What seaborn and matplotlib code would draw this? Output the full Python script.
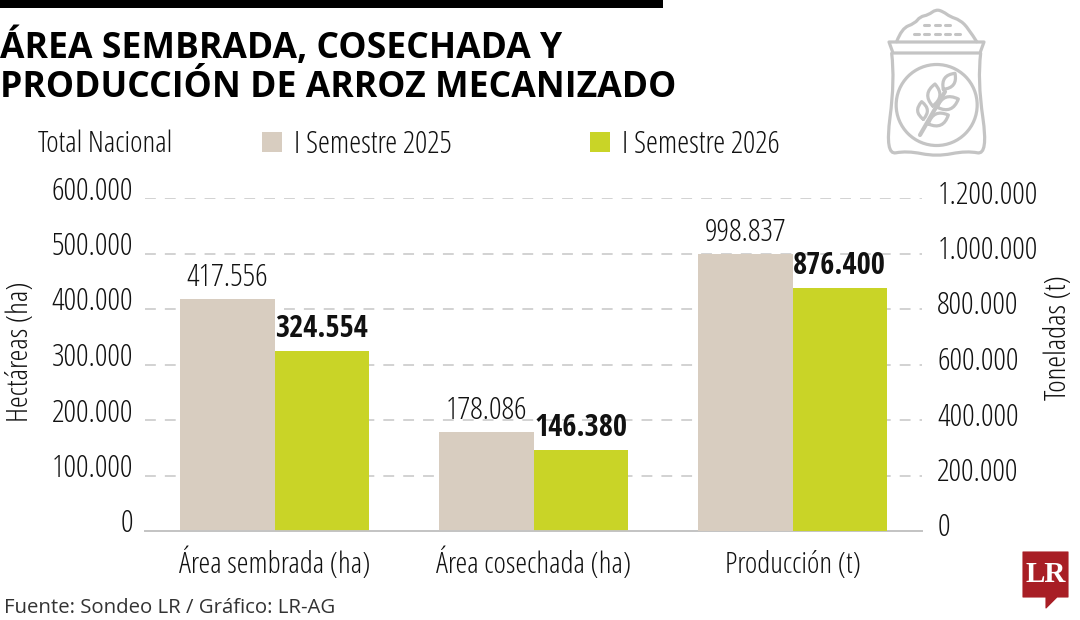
import matplotlib
matplotlib.use("Agg")
import matplotlib.pyplot as plt
import matplotlib.patches as mpatches
from matplotlib.font_manager import FontProperties
from matplotlib.path import Path
from matplotlib.transforms import ScaledTranslation
import pandas as pd
import seaborn as sns

categories = ["Área sembrada (ha)", "Área cosechada (ha)", "Producción (t)"]
periods = ["I Semestre 2025", "I Semestre 2026"]
area_categories = ["Área sembrada (ha)", "Área cosechada (ha)"]
area_2025 = [417556, 178086]
area_2026 = [324554, 146380]
prod_categories = ["Producción (t)"]
prod_2025 = [998837]
prod_2026 = [876400]
left_ticks = [0, 100000, 200000, 300000, 400000, 500000, 600000]
right_ticks = [0, 200000, 400000, 600000, 800000, 1000000, 1200000]
colors = ["#d8cdc0", "#c9d427"]

W, H = 1080, 620
INK = "#111111"
ICON = "#c4c4c4"
LABEL_SIZE = 21.5
NUMBER_SIZE = 22.6


def narrow(size=LABEL_SIZE):
    return FontProperties(family="Open Sans", stretch="condensed", weight=300, size=size)


def narrow_bold(size=22):
    return FontProperties(family="Open Sans Condensed", stretch="condensed", weight=700, size=size)


def fmt(v):
    return f"{v:,.0f}".replace(",", ".")


def long_table(cats, v1, v2):
    return pd.DataFrame({
        "categoria": cats * 2,
        "periodo": [periods[0]] * len(cats) + [periods[1]] * len(cats),
        "valor": list(v1) + list(v2),
    })


def draw_bars(ax, df):
    sns.barplot(data=df, x="categoria", y="valor", hue="periodo", order=categories,
                hue_order=periods, palette=colors, width=0.73, gap=0, saturation=1,
                legend=False, linewidth=0, ax=ax, zorder=3)
    for cont, fp, pad in zip(ax.containers, [narrow(NUMBER_SIZE), narrow_bold()], [3.5, 5]):
        labels = [fmt(b.get_height()) if b.get_height() == b.get_height() else "" for b in cont]
        ax.bar_label(cont, labels=labels, padding=pad, color=INK, fontproperties=fp)


def px(x, y):
    return x / W, 1 - y / H


def add_path(pts, codes, fc="none", ec=ICON, lw=2.3):
    fig.patches.append(mpatches.PathPatch(Path([px(*p) for p in pts], codes), transform=fig.transFigure,
                                          fc=fc, ec=ec, lw=lw, joinstyle="round", capstyle="round"))


def poly(points, closed=False, **kw):
    pts = list(points)
    codes = [Path.MOVETO] + [Path.LINETO] * (len(pts) - 1)
    if closed:
        pts.append(pts[0])
        codes.append(Path.CLOSEPOLY)
    add_path(pts, codes, **kw)


def smooth(points, **kw):
    # curva suave pasando por los puntos medios
    pts = [points[0]]
    codes = [Path.MOVETO]
    for a, b in zip(points[1:-1], points[2:]):
        pts += [a, ((a[0] + b[0]) / 2, (a[1] + b[1]) / 2)]
        codes += [Path.CURVE3, Path.CURVE3]
    pts[-1] = points[-1]
    add_path(pts, codes, **kw)


def leaf(p0, p1, bulge=0.55):
    dx, dy = p1[0] - p0[0], p1[1] - p0[1]
    mx, my = (p0[0] + p1[0]) / 2, (p0[1] + p1[1]) / 2
    c1 = (mx - dy * bulge, my + dx * bulge)
    c2 = (mx + dy * bulge, my - dx * bulge)
    add_path([p0, c1, p1, c2, p0], [Path.MOVETO, Path.CURVE3, Path.CURVE3, Path.CURVE3, Path.CURVE3])


def z(x, y):
    return 860 + x / 3, y / 3


sns.set_theme(style="white")
fig = plt.figure(figsize=(10.8, 6.2), dpi=100, facecolor="white")
ax = fig.add_axes([145 / W, 1 - 531 / H, 777 / W, 333 / H])
ax2 = ax.twinx()

draw_bars(ax, long_table(area_categories, area_2025, area_2026))
draw_bars(ax2, long_table(prod_categories, prod_2025, prod_2026))

ax.set_xlim(-0.5, 2.5)
ax.set_ylim(0, 600000)
ax2.set_ylim(0, 1200000)
ax.set_yticks(left_ticks, [fmt(v) for v in left_ticks])
ax2.set_yticks(right_ticks, [fmt(v) for v in right_ticks])
ax.set_xticks(range(3), categories)
ax.yaxis.grid(True, color="#cfcfcf", lw=1.3, ls=(0, (6, 5)), zorder=0)
ax.set_axisbelow(True)
ax.set_xlabel("")
ax2.set_xlabel("")
ax.set_ylabel("")
ax2.set_ylabel("")
for a in (ax, ax2):
    a.patch.set_visible(False)
    for s in ["top", "left", "right"]:
        a.spines[s].set_visible(False)
    a.spines["bottom"].set_color("#c4c4c4")
    a.spines["bottom"].set_linewidth(1.3)
ax.tick_params(axis="y", length=0, pad=8.5)
ax2.tick_params(axis="y", length=0, pad=11)
ax.tick_params(axis="x", length=0, pad=30)
ax2.tick_params(axis="x", length=0, labelbottom=False)
for lab in ax.get_xticklabels():
    lab.set_fontproperties(narrow())
    lab.set_color(INK)
    lab.set_va("baseline")
for lab in ax.get_yticklabels() + ax2.get_yticklabels():
    lab.set_fontproperties(narrow(NUMBER_SIZE))
    lab.set_color(INK)
up_left = ScaledTranslation(0, 10.5 / 100, fig.dpi_scale_trans)
up_right = ScaledTranslation(0, 6.5 / 100, fig.dpi_scale_trans)
for lab in ax.get_yticklabels():
    lab.set_transform(lab.get_transform() + up_left)
for lab in ax2.get_yticklabels():
    lab.set_transform(lab.get_transform() + up_right)

# titulo y textos sueltos
fig.patches.append(mpatches.Rectangle(px(0, 8), 663 / W, 8 / H, transform=fig.transFigure, color="black", lw=0))
fig.text(*px(0, 58), "ÁREA SEMBRADA, COSECHADA Y", fontsize=25.6, fontweight="bold", family="Open Sans", color="black")
fig.text(*px(0, 97), "PRODUCCIÓN DE ARROZ MECANIZADO", fontsize=25.6, fontweight="bold", family="Open Sans", color="black")
fig.text(*px(38, 152), "Total Nacional", fontproperties=narrow(), color=INK)
for x0, col, name in zip([262, 590], colors, periods):
    fig.patches.append(mpatches.Rectangle(px(x0, 152), 20 / W, 20 / H, transform=fig.transFigure, color=col, lw=0))
    fig.text(*px(x0 + 32, 153), name, fontproperties=narrow(22), color=INK)
fig.text(*px(20, 352), "Hectáreas (ha)", fontproperties=narrow(), color=INK, rotation=90, ha="center", va="center")
fig.text(*px(1058, 338), "Toneladas (t)", fontproperties=narrow(), color=INK, rotation=90, ha="center", va="center")
fig.text(*px(4, 613), "Fuente: Sondeo LR / Gráfico: LR-AG", fontsize=14.7, family="Open Sans", color="#333333")

# saco de arroz
poly([(889, 42), (984, 42), (980, 53), (893, 53)], closed=True)
smooth([z(110, 125), z(125, 85), z(165, 70), z(180, 50), z(205, 45), z(228, 28), z(250, 35), z(270, 50),
        z(300, 60), z(325, 85), z(350, 125)])
smooth([z(95, 160), z(105, 240), z(75, 465), z(140, 452), z(230, 470), z(320, 452), z(385, 465),
        z(352, 240), z(362, 160)])
fig.patches.append(mpatches.Ellipse(px(*z(230, 315)), 81 / W, 81 / H, transform=fig.transFigure,
                                    fc="none", ec=ICON, lw=2.3))
poly([z(180, 405), z(255, 275)], lw=3)
leaf(z(205, 372), z(265, 345))
leaf(z(190, 358), z(185, 305))
leaf(z(232, 322), z(295, 297))
leaf(z(218, 318), z(225, 252))
leaf(z(250, 268), z(285, 220))
for xs, y in [([200, 232, 262], 75), ([170, 200, 232, 262, 292], 103)]:
    for x in xs:
        poly([z(x - 8, y), z(x + 8, y)], lw=2.2)

# logo LR
poly([(1023, 552), (1068, 552), (1068, 597), (1057, 597), (1046, 608), (1046, 597), (1023, 597)], closed=True,
     fc="#a81e25", ec="#a81e25", lw=0.8)
fig.text(*px(1045.5, 574), "LR", fontsize=21, fontweight="bold", family="Liberation Serif", color="white",
         ha="center", va="center")

fig.savefig("out.png", dpi=100)
